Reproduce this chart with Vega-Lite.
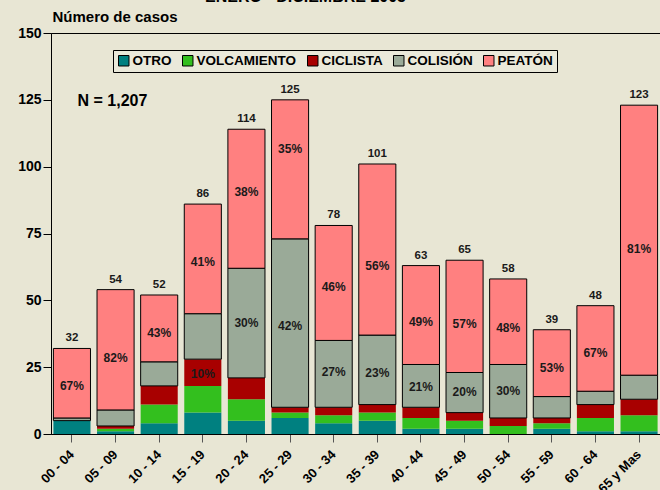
{
  "$schema": "https://vega.github.io/schema/vega-lite/v6.json",
  "width": 609,
  "height": 401,
  "autosize": {"type": "none"},
  "padding": {"left": 51, "top": 33, "right": 0, "bottom": 56},
  "background": "#E8E6D4",
  "title": {
    "text": "ENERO - DICIEMBRE 2005",
    "anchor": "middle",
    "fontSize": 16,
    "fontWeight": "bold",
    "font": "Liberation Sans",
    "color": "#000000",
    "offset": 4,
    "dx": -50
  },
  "config": {
    "font": "Liberation Sans",
    "view": {"stroke": "#000000", "strokeWidth": 1},
    "axis": {"grid": false, "domainColor": "#000000", "labelColor": "#000000", "labelFontWeight": "bold", "titleColor": "#000000"}
  },
  "datasets": {
    "casos": [
      {"edad": "00 - 04", "tipo": "OTRO", "ord": 1, "casos": 5},
      {"edad": "00 - 04", "tipo": "VOLCAMIENTO", "ord": 2, "casos": 0},
      {"edad": "00 - 04", "tipo": "CICLISTA", "ord": 3, "casos": 0},
      {"edad": "00 - 04", "tipo": "COLISIÓN", "ord": 4, "casos": 1},
      {"edad": "00 - 04", "tipo": "PEATÓN", "ord": 5, "casos": 26},
      {"edad": "05 - 09", "tipo": "OTRO", "ord": 1, "casos": 1},
      {"edad": "05 - 09", "tipo": "VOLCAMIENTO", "ord": 2, "casos": 1},
      {"edad": "05 - 09", "tipo": "CICLISTA", "ord": 3, "casos": 1},
      {"edad": "05 - 09", "tipo": "COLISIÓN", "ord": 4, "casos": 6},
      {"edad": "05 - 09", "tipo": "PEATÓN", "ord": 5, "casos": 45},
      {"edad": "10 - 14", "tipo": "OTRO", "ord": 1, "casos": 4},
      {"edad": "10 - 14", "tipo": "VOLCAMIENTO", "ord": 2, "casos": 7},
      {"edad": "10 - 14", "tipo": "CICLISTA", "ord": 3, "casos": 7},
      {"edad": "10 - 14", "tipo": "COLISIÓN", "ord": 4, "casos": 9},
      {"edad": "10 - 14", "tipo": "PEATÓN", "ord": 5, "casos": 25},
      {"edad": "15 - 19", "tipo": "OTRO", "ord": 1, "casos": 8},
      {"edad": "15 - 19", "tipo": "VOLCAMIENTO", "ord": 2, "casos": 10},
      {"edad": "15 - 19", "tipo": "CICLISTA", "ord": 3, "casos": 10},
      {"edad": "15 - 19", "tipo": "COLISIÓN", "ord": 4, "casos": 17},
      {"edad": "15 - 19", "tipo": "PEATÓN", "ord": 5, "casos": 41},
      {"edad": "20 - 24", "tipo": "OTRO", "ord": 1, "casos": 5},
      {"edad": "20 - 24", "tipo": "VOLCAMIENTO", "ord": 2, "casos": 8},
      {"edad": "20 - 24", "tipo": "CICLISTA", "ord": 3, "casos": 8},
      {"edad": "20 - 24", "tipo": "COLISIÓN", "ord": 4, "casos": 41},
      {"edad": "20 - 24", "tipo": "PEATÓN", "ord": 5, "casos": 52},
      {"edad": "25 - 29", "tipo": "OTRO", "ord": 1, "casos": 6},
      {"edad": "25 - 29", "tipo": "VOLCAMIENTO", "ord": 2, "casos": 2},
      {"edad": "25 - 29", "tipo": "CICLISTA", "ord": 3, "casos": 2},
      {"edad": "25 - 29", "tipo": "COLISIÓN", "ord": 4, "casos": 63},
      {"edad": "25 - 29", "tipo": "PEATÓN", "ord": 5, "casos": 52},
      {"edad": "30 - 34", "tipo": "OTRO", "ord": 1, "casos": 4},
      {"edad": "30 - 34", "tipo": "VOLCAMIENTO", "ord": 2, "casos": 3},
      {"edad": "30 - 34", "tipo": "CICLISTA", "ord": 3, "casos": 3},
      {"edad": "30 - 34", "tipo": "COLISIÓN", "ord": 4, "casos": 25},
      {"edad": "30 - 34", "tipo": "PEATÓN", "ord": 5, "casos": 43},
      {"edad": "35 - 39", "tipo": "OTRO", "ord": 1, "casos": 5},
      {"edad": "35 - 39", "tipo": "VOLCAMIENTO", "ord": 2, "casos": 3},
      {"edad": "35 - 39", "tipo": "CICLISTA", "ord": 3, "casos": 3},
      {"edad": "35 - 39", "tipo": "COLISIÓN", "ord": 4, "casos": 26},
      {"edad": "35 - 39", "tipo": "PEATÓN", "ord": 5, "casos": 64},
      {"edad": "40 - 44", "tipo": "OTRO", "ord": 1, "casos": 2},
      {"edad": "40 - 44", "tipo": "VOLCAMIENTO", "ord": 2, "casos": 4},
      {"edad": "40 - 44", "tipo": "CICLISTA", "ord": 3, "casos": 4},
      {"edad": "40 - 44", "tipo": "COLISIÓN", "ord": 4, "casos": 16},
      {"edad": "40 - 44", "tipo": "PEATÓN", "ord": 5, "casos": 37},
      {"edad": "45 - 49", "tipo": "OTRO", "ord": 1, "casos": 2},
      {"edad": "45 - 49", "tipo": "VOLCAMIENTO", "ord": 2, "casos": 3},
      {"edad": "45 - 49", "tipo": "CICLISTA", "ord": 3, "casos": 3},
      {"edad": "45 - 49", "tipo": "COLISIÓN", "ord": 4, "casos": 15},
      {"edad": "45 - 49", "tipo": "PEATÓN", "ord": 5, "casos": 42},
      {"edad": "50 - 54", "tipo": "OTRO", "ord": 1, "casos": 0},
      {"edad": "50 - 54", "tipo": "VOLCAMIENTO", "ord": 2, "casos": 3},
      {"edad": "50 - 54", "tipo": "CICLISTA", "ord": 3, "casos": 3},
      {"edad": "50 - 54", "tipo": "COLISIÓN", "ord": 4, "casos": 20},
      {"edad": "50 - 54", "tipo": "PEATÓN", "ord": 5, "casos": 32},
      {"edad": "55 - 59", "tipo": "OTRO", "ord": 1, "casos": 2},
      {"edad": "55 - 59", "tipo": "VOLCAMIENTO", "ord": 2, "casos": 2},
      {"edad": "55 - 59", "tipo": "CICLISTA", "ord": 3, "casos": 2},
      {"edad": "55 - 59", "tipo": "COLISIÓN", "ord": 4, "casos": 8},
      {"edad": "55 - 59", "tipo": "PEATÓN", "ord": 5, "casos": 25},
      {"edad": "60 - 64", "tipo": "OTRO", "ord": 1, "casos": 1},
      {"edad": "60 - 64", "tipo": "VOLCAMIENTO", "ord": 2, "casos": 5},
      {"edad": "60 - 64", "tipo": "CICLISTA", "ord": 3, "casos": 5},
      {"edad": "60 - 64", "tipo": "COLISIÓN", "ord": 4, "casos": 5},
      {"edad": "60 - 64", "tipo": "PEATÓN", "ord": 5, "casos": 32},
      {"edad": "65 y Mas", "tipo": "OTRO", "ord": 1, "casos": 1},
      {"edad": "65 y Mas", "tipo": "VOLCAMIENTO", "ord": 2, "casos": 6},
      {"edad": "65 y Mas", "tipo": "CICLISTA", "ord": 3, "casos": 6},
      {"edad": "65 y Mas", "tipo": "COLISIÓN", "ord": 4, "casos": 9},
      {"edad": "65 y Mas", "tipo": "PEATÓN", "ord": 5, "casos": 101}
    ],
    "etiquetas": [
      {"edad": "00 - 04", "casos": 18, "texto": "67%"},
      {"edad": "05 - 09", "casos": 28.4, "texto": "82%"},
      {"edad": "10 - 14", "casos": 37.8, "texto": "43%"},
      {"edad": "15 - 19", "casos": 64.3, "texto": "41%"},
      {"edad": "15 - 19", "casos": 22.4, "texto": "10%"},
      {"edad": "20 - 24", "casos": 90.5, "texto": "38%"},
      {"edad": "20 - 24", "casos": 41.5, "texto": "30%"},
      {"edad": "25 - 29", "casos": 106.6, "texto": "35%"},
      {"edad": "25 - 29", "casos": 40.4, "texto": "42%"},
      {"edad": "30 - 34", "casos": 55, "texto": "46%"},
      {"edad": "30 - 34", "casos": 23.2, "texto": "27%"},
      {"edad": "35 - 39", "casos": 62.9, "texto": "56%"},
      {"edad": "35 - 39", "casos": 22.8, "texto": "23%"},
      {"edad": "40 - 44", "casos": 41.9, "texto": "49%"},
      {"edad": "40 - 44", "casos": 17.6, "texto": "21%"},
      {"edad": "45 - 49", "casos": 41.2, "texto": "57%"},
      {"edad": "45 - 49", "casos": 15.7, "texto": "20%"},
      {"edad": "50 - 54", "casos": 39.7, "texto": "48%"},
      {"edad": "50 - 54", "casos": 16, "texto": "30%"},
      {"edad": "55 - 59", "casos": 24.7, "texto": "53%"},
      {"edad": "60 - 64", "casos": 30.3, "texto": "67%"},
      {"edad": "65 y Mas", "casos": 69.2, "texto": "81%"}
    ],
    "nota": [
      {"edad": "05 - 09", "casos": 124.6, "texto": "N = 1,207"}
    ]
  },
  "layer": [
    {
      "data": {"name": "casos"},
      "mark": {"type": "bar", "stroke": "#000000"},
      "encoding": {
        "x": {
          "field": "edad", "type": "nominal", "sort": null,
          "scale": {"paddingInner": 0.15, "paddingOuter": 0.055},
          "axis": {"title": null, "labelAngle": -45, "labelAlign": "right", "labelBaseline": "middle", "labelFontSize": 13, "labelPadding": 10, "tickColor": "#555555", "tickSize": 8, "domainColor": "#000000"}
        },
        "y": {
          "field": "casos", "type": "quantitative", "aggregate": "sum", "stack": "zero",
          "scale": {"domain": [0, 150], "nice": false},
          "axis": {"title": "Número de casos", "titleAngle": 0, "titleAlign": "left", "titleBaseline": "alphabetic", "titleX": 1, "titleY": -12, "titleFontSize": 15, "titleFontWeight": "bold", "values": [0, 25, 50, 75, 100, 125, 150], "labelFontSize": 14, "tickSize": 8, "tickColor": "#000000", "labelPadding": 2}
        },
        "color": {
          "field": "tipo", "type": "nominal",
          "scale": {"domain": ["OTRO", "VOLCAMIENTO", "CICLISTA", "COLISIÓN", "PEATÓN"], "range": ["#008080", "#33BF1E", "#A80000", "#9AAA98", "#FF8080"]},
          "legend": {"title": null, "orient": "none", "legendX": 62, "legendY": 17, "direction": "horizontal", "symbolType": "square", "symbolSize": 110, "symbolStrokeColor": "#000000", "symbolStrokeWidth": 1, "labelFontSize": 13.5, "labelFontWeight": "bold", "labelColor": "#000000", "labelOffset": 2, "strokeColor": "#000000", "fillColor": "#EAE9DA", "padding": 4, "columnPadding": 8}
        },
        "order": {"field": "ord", "type": "quantitative", "sort": "ascending"},
        "strokeWidth": {"condition": {"test": "datum.tipo === 'COLISIÓN' || datum.tipo === 'PEATÓN'", "value": 1}, "value": 0}
      }
    },
    {
      "data": {"name": "etiquetas"},
      "mark": {"type": "text", "fontWeight": "bold", "fontSize": 12, "color": "#1A1A1A", "baseline": "middle"},
      "encoding": {
        "x": {"field": "edad", "type": "nominal", "sort": null},
        "y": {"field": "casos", "type": "quantitative", "stack": null},
        "text": {"field": "texto", "type": "nominal"}
      }
    },
    {
      "data": {"name": "casos"},
      "transform": [{"aggregate": [{"op": "sum", "field": "casos", "as": "casos"}], "groupby": ["edad"]}],
      "mark": {"type": "text", "fontWeight": "bold", "fontSize": 11.5, "color": "#1A1A1A", "baseline": "bottom", "dy": -5},
      "encoding": {
        "x": {"field": "edad", "type": "nominal", "sort": null},
        "y": {"field": "casos", "type": "quantitative", "stack": null},
        "text": {"field": "casos", "type": "quantitative"}
      }
    },
    {
      "data": {"name": "nota"},
      "mark": {"type": "text", "fontWeight": "bold", "fontSize": 16, "color": "#000000", "baseline": "middle", "align": "left", "dx": -38},
      "encoding": {
        "x": {"field": "edad", "type": "nominal", "sort": null},
        "y": {"field": "casos", "type": "quantitative", "stack": null},
        "text": {"field": "texto", "type": "nominal"}
      }
    }
  ]
}
